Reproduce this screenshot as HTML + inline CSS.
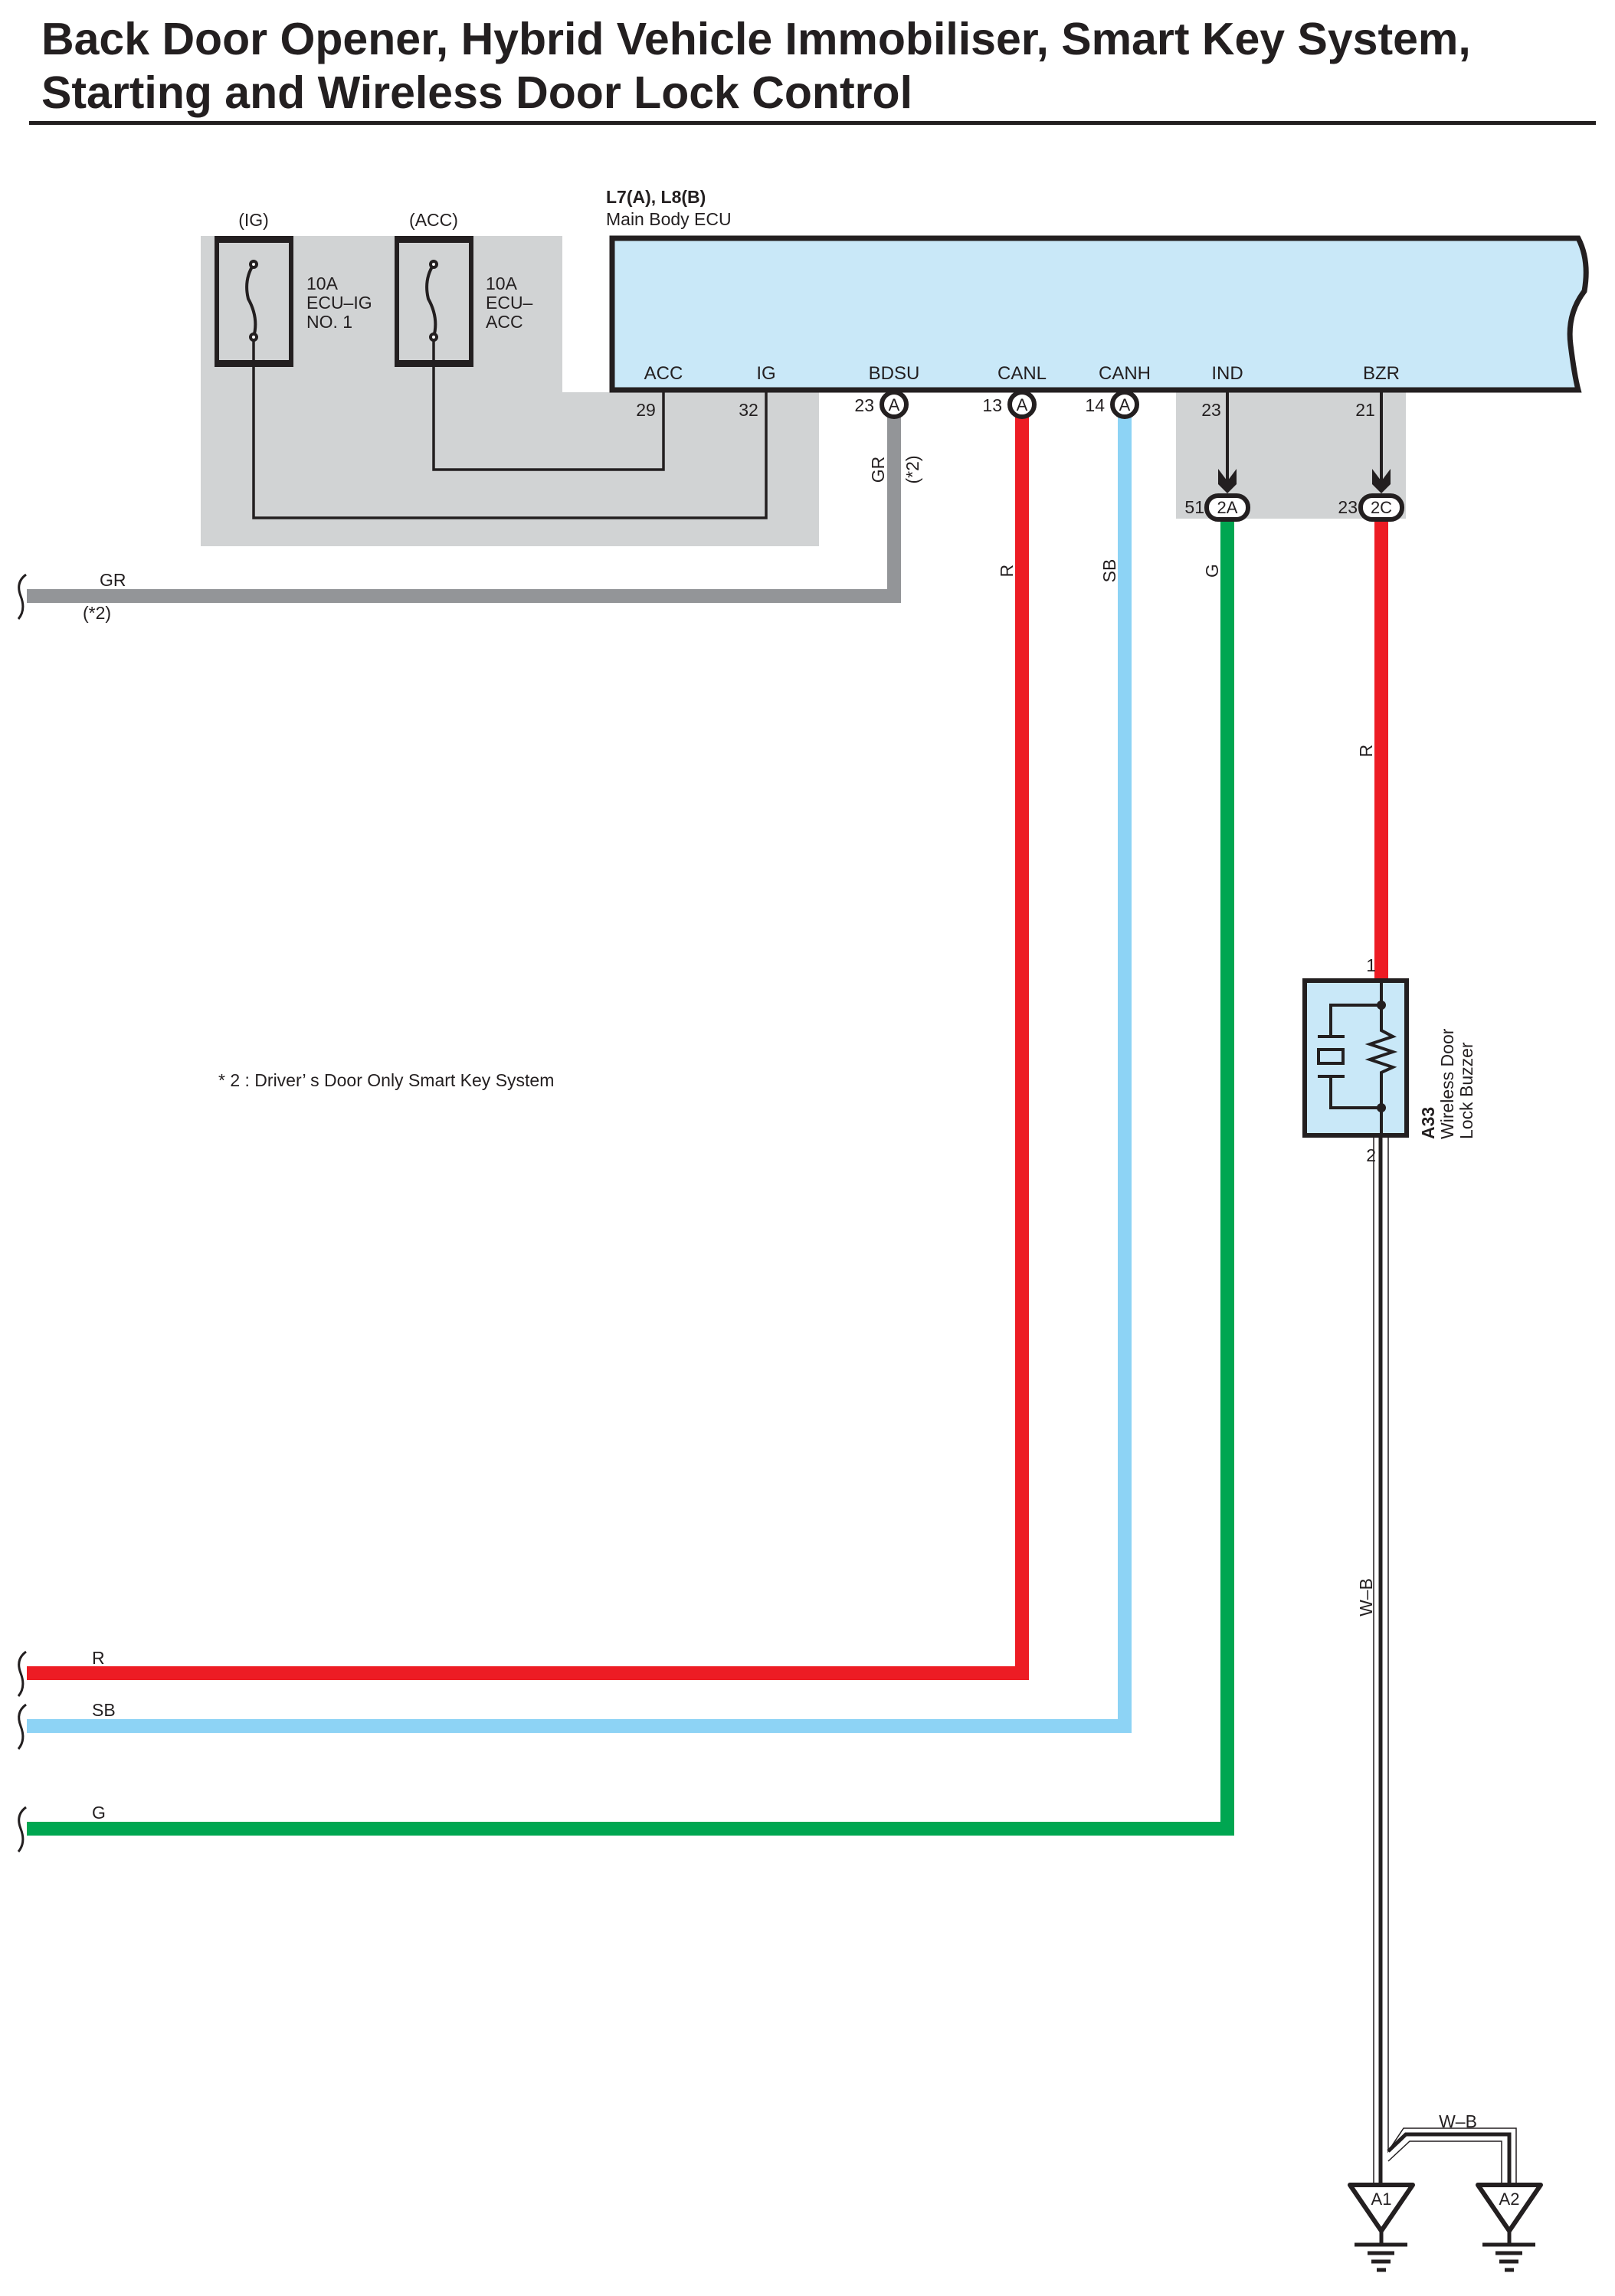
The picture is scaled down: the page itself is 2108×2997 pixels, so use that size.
<!DOCTYPE html>
<html><head><meta charset="utf-8"><style>
html,body{margin:0;padding:0;background:#fff}
svg{display:block}
text{font-family:"Liberation Sans",sans-serif;fill:#231f20}
</style></head><body>
<svg width="2108" height="2997" viewBox="0 0 2108 2997" xmlns="http://www.w3.org/2000/svg">
<text x="54" y="71" font-size="59" font-weight="bold">Back Door Opener, Hybrid Vehicle Immobiliser, Smart Key System,</text>
<text x="54" y="141" font-size="59" font-weight="bold">Starting and Wireless Door Lock Control</text>
<rect x="38" y="158" width="2045" height="5" fill="#231f20"/>

<!-- gray areas -->
<path d="M262 308 H734 V512 H1069 V713 H262 Z" fill="#d1d3d4"/>
<rect x="1535" y="512" width="300" height="165" fill="#d1d3d4"/>

<!-- ECU -->
<path d="M799 311 H2060 Q2075 340 2068 380 Q2045 410 2050 450 Q2055 490 2060 509 H799 Z" fill="#c9e8f8" stroke="#231f20" stroke-width="7"/>
<text x="791" y="265" font-size="23" font-weight="bold">L7(A), L8(B)</text>
<text x="791" y="294" font-size="23">Main Body ECU</text>
<g font-size="24" text-anchor="middle">
<text x="866" y="495">ACC</text><text x="1000" y="495">IG</text><text x="1167" y="495">BDSU</text>
<text x="1334" y="495">CANL</text><text x="1468" y="495">CANH</text><text x="1602" y="495">IND</text><text x="1803" y="495">BZR</text>
</g>

<!-- fuses -->
<g fill="#fff" stroke="#231f20" stroke-width="6">
<rect x="283" y="311" width="97" height="165" fill="none"/>
<rect x="518" y="311" width="97" height="165" fill="none"/>
</g>
<rect x="280" y="308" width="103" height="9" fill="#231f20"/><rect x="280" y="470" width="103" height="9" fill="#231f20"/>
<rect x="515" y="308" width="103" height="9" fill="#231f20"/><rect x="515" y="470" width="103" height="9" fill="#231f20"/>
<g fill="none" stroke="#231f20" stroke-width="4">
<path d="M331 345 Q318 365 324 390 Q338 415 331 440"/>
<path d="M566 345 Q553 365 559 390 Q573 415 566 440"/>
<circle cx="331" cy="345" r="4" fill="#fff"/><circle cx="331" cy="440" r="4" fill="#fff"/>
<circle cx="566" cy="345" r="4" fill="#fff"/><circle cx="566" cy="440" r="4" fill="#fff"/>
<path d="M331 444 V676 H1000 V512" stroke-width="3.5"/>
<path d="M566 444 V613 H866 V512" stroke-width="3.5"/>
</g>
<g font-size="23">
<text x="331" y="295" text-anchor="middle">(IG)</text><text x="566" y="295" text-anchor="middle">(ACC)</text>
<text x="400" y="378">10A</text><text x="400" y="403">ECU–IG</text><text x="400" y="428">NO. 1</text>
<text x="634" y="378">10A</text><text x="634" y="403">ECU–</text><text x="634" y="428">ACC</text>
<text x="843" y="543" text-anchor="middle">29</text><text x="977" y="543" text-anchor="middle">32</text>
<text x="1141" y="537" text-anchor="end">23</text><text x="1308" y="537" text-anchor="end">13</text><text x="1442" y="537" text-anchor="end">14</text>
<text x="1581" y="543" text-anchor="middle">23</text><text x="1782" y="543" text-anchor="middle">21</text>
<text x="1572" y="670" text-anchor="end">51</text><text x="1772" y="670" text-anchor="end">23</text>
</g>

<!-- wires -->
<g fill="none" stroke-linejoin="miter" stroke-width="18">
<path d="M1167 540 V778 H35" stroke="#939598"/>
<path d="M1334 540 V2184 H35" stroke="#ed1c24"/>
<path d="M1468 540 V2253 H35" stroke="#8dd3f5"/>
<path d="M1602 675 V2387 H35" stroke="#00a651"/>
<path d="M1803 675 V1282" stroke="#ed1c24"/>
</g>
<!-- squiggles -->
<g fill="none" stroke="#231f20" stroke-width="3">
<path d="M34 750 Q20 760 27 778 Q34 796 24 808"/><path d="M34 2156 Q20 2166 27 2184 Q34 2202 24 2214"/>
<path d="M34 2225 Q20 2235 27 2253 Q34 2271 24 2283"/><path d="M34 2359 Q20 2369 27 2387 Q34 2405 24 2417"/>
</g>

<!-- connectors -->
<g fill="#fff" stroke="#231f20" stroke-width="6">
<circle cx="1167" cy="528" r="16"/><circle cx="1334" cy="528" r="16"/><circle cx="1468" cy="528" r="16"/>
<rect x="1575" y="647" width="54" height="31" rx="15"/><rect x="1776" y="647" width="54" height="31" rx="15"/>
</g>
<g font-size="22" text-anchor="middle">
<text x="1167" y="536">A</text><text x="1334" y="536">A</text><text x="1468" y="536">A</text>
<text x="1602" y="670">2A</text><text x="1803" y="670">2C</text>
</g>
<g stroke="#231f20" stroke-width="4"><path d="M1602 512 V640"/><path d="M1803 512 V640"/></g>
<path d="M1590 612 L1602 628 L1614 612 V632 L1602 644 L1590 632 Z" fill="#231f20"/>
<path d="M1791 612 L1803 628 L1815 612 V632 L1803 644 L1791 632 Z" fill="#231f20"/>

<!-- wire labels -->
<g font-size="23">
<text x="130" y="765">GR</text><text x="108" y="808">(*2)</text>
<text x="120" y="2172">R</text><text x="120" y="2240">SB</text><text x="120" y="2374">G</text>
<text x="1903" y="2777" text-anchor="middle">W–B</text>
<text x="285" y="1418">* 2 : Driver’ s Door Only Smart Key System</text>
<text x="1796" y="1268" text-anchor="end">1</text><text x="1796" y="1516" text-anchor="end">2</text>
<text transform="translate(1154,613) rotate(-90)" text-anchor="middle">GR</text>
<text transform="translate(1199,613) rotate(-90)" text-anchor="middle">(*2)</text>
<text transform="translate(1322,745) rotate(-90)" text-anchor="middle">R</text>
<text transform="translate(1456,745) rotate(-90)" text-anchor="middle">SB</text>
<text transform="translate(1590,745) rotate(-90)" text-anchor="middle">G</text>
<text transform="translate(1791,980) rotate(-90)" text-anchor="middle">R</text>
<text transform="translate(1791,2085) rotate(-90)" text-anchor="middle">W–B</text>
</g>

<!-- buzzer -->
<rect x="1703" y="1280" width="133" height="202" fill="#c9e8f8" stroke="#231f20" stroke-width="6"/>
<g fill="none" stroke="#231f20" stroke-width="4">
<path d="M1803 1280 V1345 L1818 1353 L1788 1363 L1818 1373 L1788 1383 L1818 1393 L1803 1400 V1482"/>
<path d="M1803 1312 H1737 V1353 M1720 1353 H1755 M1720 1405 H1755 M1737 1405 V1446 H1803"/>
<rect x="1721" y="1370" width="32" height="18" stroke-width="4"/>
</g>
<circle cx="1803" cy="1312" r="6" fill="#231f20"/><circle cx="1803" cy="1446" r="6" fill="#231f20"/>
<g font-size="23">
<text transform="translate(1872,1487) rotate(-90)" font-weight="bold">A33</text>
<text transform="translate(1897,1487) rotate(-90)">Wireless Door</text>
<text transform="translate(1922,1487) rotate(-90)">Lock Buzzer</text>
</g>

<!-- W-B wire -->
<g fill="none">
<path d="M1793 1485 V2852 M1812 1485 V2808 L1832 2778 H1979 V2852 M1812 2821 L1840 2795 H1960 V2852" stroke="#231f20" stroke-width="1.5"/>
<path d="M1802 1485 V2852" stroke="#231f20" stroke-width="5"/>
<path d="M1812 2808 L1835 2786 H1970 V2852" stroke="#231f20" stroke-width="5"/>
</g>
<!-- grounds -->
<g fill="#fff" stroke="#231f20" stroke-width="6" stroke-linejoin="round">
<path d="M1762 2852 H1844 L1803 2912 Z"/><path d="M1929 2852 H2011 L1970 2912 Z"/>
</g>
<g stroke="#231f20" stroke-width="5">
<path d="M1803 2912 V2930 M1768 2930 H1837 M1785 2941 H1820 M1790 2952 H1815 M1797 2963 H1809"/>
<path d="M1970 2912 V2930 M1935 2930 H2004 M1952 2941 H1987 M1957 2952 H1982 M1964 2963 H1976"/>
</g>
<g font-size="22" text-anchor="middle"><text x="1803" y="2878">A1</text><text x="1970" y="2878">A2</text></g>
</svg>
</body></html>
